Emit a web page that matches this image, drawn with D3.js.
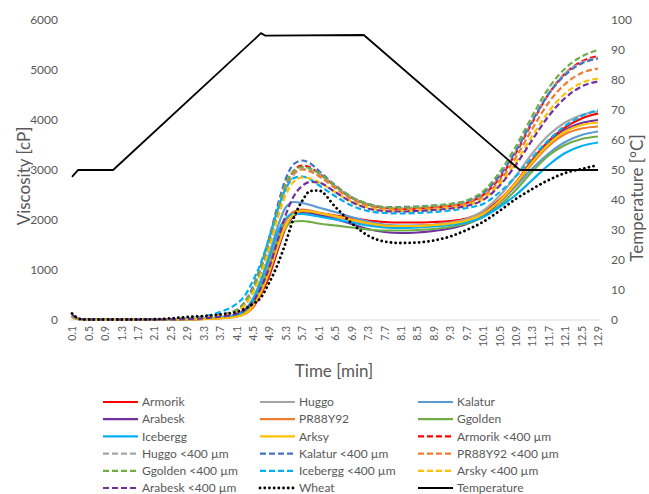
<!DOCTYPE html>
<html>
<head>
<meta charset="utf-8">
<script src="https://cdnjs.cloudflare.com/ajax/libs/d3/7.8.5/d3.min.js"></script>
<style>
body{margin:0;background:#fff;}
text{font-family:Lato,"Liberation Sans",sans-serif;fill:#595959;}
</style>
</head>
<body>
<script>
// time points (min) the viscosity curves were read at
var times = [0.1,0.3,0.5,1.3,2.1,2.9,3.3,3.7,4.1,4.3,4.5,4.7,4.9,5.1,5.3,5.5,5.7,5.9,6.1,6.5,6.9,7.3,7.7,8.1,8.5,8.9,9.3,9.7,10.1,10.5,10.9,11.3,11.7,12.1,12.5,12.9];

// viscosity [cP]
var armorik = [60,10,5,5,5,10,20,35,70,120,250,520,880,1380,1850,2100,2180,2170,2140,2090,2040,1990,1960,1950,1950,1960,1980,2030,2160,2400,2750,3200,3580,3850,4030,4130];
var huggo = [60,10,5,5,5,15,25,45,90,170,350,700,1150,1650,2000,2150,2190,2170,2130,2060,1990,1930,1890,1880,1890,1910,1950,2020,2180,2480,2880,3330,3700,3950,4100,4170];
var kalatur = [60,10,5,5,5,15,30,55,110,200,420,800,1300,1850,2250,2360,2340,2300,2250,2160,2060,1970,1910,1890,1890,1900,1930,1990,2120,2360,2680,3030,3330,3560,3700,3770];
var arabesk = [100,15,5,5,5,12,22,40,80,140,290,580,950,1420,1850,2080,2150,2140,2100,2020,1920,1820,1760,1740,1750,1780,1830,1920,2080,2360,2720,3150,3540,3800,3940,4000];
var pr88y92 = [60,10,5,5,5,12,22,40,80,150,320,650,1080,1580,1980,2170,2210,2190,2150,2080,2000,1930,1880,1870,1880,1900,1930,1990,2120,2370,2720,3130,3480,3720,3830,3870];
var ggolden = [60,10,5,5,5,12,22,40,80,150,320,640,1040,1500,1850,1970,1980,1960,1930,1890,1850,1810,1790,1790,1800,1820,1860,1930,2060,2290,2600,2970,3290,3500,3620,3670];
var icebergg = [60,10,5,5,5,15,28,50,100,190,400,780,1250,1740,2030,2120,2120,2100,2070,2010,1950,1890,1850,1840,1850,1870,1900,1950,2060,2260,2500,2800,3100,3340,3480,3550];
var arksy = [60,10,5,5,5,10,18,32,65,120,270,560,960,1450,1880,2110,2180,2170,2140,2080,2010,1940,1890,1880,1880,1900,1930,1990,2120,2380,2740,3160,3520,3770,3900,3950];
var armorik400 = [70,15,8,8,8,25,50,90,170,300,560,950,1480,2100,2650,2980,3090,3050,2940,2680,2450,2310,2240,2220,2230,2250,2280,2340,2500,2830,3340,3950,4520,4930,5170,5280];
var huggo400 = [70,15,8,8,8,25,50,90,170,300,560,950,1480,2080,2600,2910,3020,3000,2910,2670,2450,2310,2250,2240,2250,2270,2300,2360,2530,2880,3380,3980,4540,4930,5150,5250];
var kalatur400 = [70,15,8,8,8,30,60,110,200,360,660,1100,1650,2280,2820,3120,3190,3130,2990,2700,2460,2320,2260,2260,2270,2290,2320,2380,2540,2880,3380,3980,4520,4900,5130,5230];
var pr88y92400 = [70,15,8,8,8,28,55,100,190,340,620,1040,1580,2180,2700,2950,3010,2970,2880,2640,2420,2290,2230,2220,2230,2250,2280,2330,2470,2780,3250,3820,4350,4720,4940,5030];
var ggolden400 = [70,15,8,8,8,28,55,100,190,340,620,1040,1580,2180,2720,2990,3060,3030,2940,2690,2460,2320,2260,2250,2260,2290,2320,2390,2570,2950,3470,4080,4640,5030,5270,5400];
var icebergg400 = [70,15,8,8,8,35,70,160,320,480,780,1150,1650,2200,2620,2840,2870,2810,2700,2480,2290,2180,2140,2130,2140,2160,2190,2240,2320,2550,2870,3250,3600,3880,4080,4200];
var arsky400 = [70,15,8,8,8,25,48,85,160,290,540,920,1440,2020,2500,2770,2850,2830,2760,2560,2370,2250,2190,2180,2190,2210,2240,2290,2420,2710,3150,3680,4170,4530,4740,4830];
var arabesk400 = [100,20,8,8,8,20,35,65,120,200,360,650,1050,1580,2100,2480,2680,2760,2750,2560,2360,2230,2180,2170,2180,2200,2230,2280,2400,2680,3100,3600,4080,4440,4670,4770];
var wheat = [130,20,10,10,15,60,80,110,160,220,320,450,750,1100,1550,2050,2380,2580,2590,2270,1940,1690,1570,1540,1550,1590,1670,1800,1960,2180,2420,2620,2800,2940,3020,3100];

// temperature profile [°C]
var tempTimes = [0.1,0.25,1.1,4.7,4.8,7.2,11.0,12.9];
var tempValues = [47.7,50,50,95.6,94.8,95,50,50];

var xTickLabels = ["0.1","0.5","0.9","1.3","1.7","2.1","2.5","2.9","3.3","3.7","4.1","4.5","4.9","5.3","5.7","6.1","6.5","6.9","7.3","7.7","8.1","8.5","8.9","9.3","9.7","10.1","10.5","10.9","11.3","11.7","12.1","12.5","12.9"];
var viscTicks = [0,1000,2000,3000,4000,5000,6000];
var tempTicks = [0,10,20,30,40,50,60,70,80,90,100];

// series in drawing order, with their look
var series = [
	{name:"Armorik", values:armorik, color:"#FF0000", dash:null},
	{name:"Huggo", values:huggo, color:"#A5A5A5", dash:null},
	{name:"Kalatur", values:kalatur, color:"#5B9BD5", dash:null},
	{name:"Arabesk", values:arabesk, color:"#7030A0", dash:null},
	{name:"PR88Y92", values:pr88y92, color:"#ED7D31", dash:null},
	{name:"Ggolden", values:ggolden, color:"#70AD47", dash:null},
	{name:"Icebergg", values:icebergg, color:"#00B0F0", dash:null},
	{name:"Arksy", values:arksy, color:"#FFC000", dash:null},
	{name:"Armorik <400 µm", values:armorik400, color:"#FF0000", dash:"6,3"},
	{name:"Huggo <400 µm", values:huggo400, color:"#A5A5A5", dash:"6,3"},
	{name:"Kalatur <400 µm", values:kalatur400, color:"#4472C4", dash:"6,3"},
	{name:"PR88Y92 <400 µm", values:pr88y92400, color:"#ED7D31", dash:"6,3"},
	{name:"Ggolden <400 µm", values:ggolden400, color:"#70AD47", dash:"6,3"},
	{name:"Icebergg <400 µm", values:icebergg400, color:"#00B0F0", dash:"6,3"},
	{name:"Arsky <400 µm", values:arsky400, color:"#FFC000", dash:"6,3"},
	{name:"Arabesk <400 µm", values:arabesk400, color:"#7030A0", dash:"6,3"},
	{name:"Wheat", values:wheat, color:"#000000", dash:"0.1,4.6", dot:true}
];

var w = 649, h = 494;
var svg = d3.select("body").append("svg")
	.attr("width", w)
	.attr("height", h);

var x = d3.scaleLinear().domain([0.1, 12.9]).range([72, 598]);
var y = d3.scaleLinear().domain([0, 6000]).range([320, 20]);
var yT = d3.scaleLinear().domain([0, 100]).range([320, 20]);

// axes
var leftAxis = svg.append("g")
	.attr("transform", "translate(58,0)")
	.call(d3.axisLeft(y).tickValues(viscTicks).tickSize(0).tickPadding(0).tickFormat(d3.format("d")));
var rightAxis = svg.append("g")
	.attr("transform", "translate(611,0)")
	.call(d3.axisRight(yT).tickValues(tempTicks).tickSize(0).tickPadding(0));
[leftAxis, rightAxis].forEach(function(a){
	a.select(".domain").remove();
	a.selectAll("text").style("font-size", "12px").style("font-family", "Lato").attr("fill", "#595959");
});

var tickNums = xTickLabels.map(function(s){return +s});
var bottomAxis = svg.append("g")
	.attr("transform", "translate(0,320)")
	.call(d3.axisBottom(x).tickValues(tickNums).tickSize(0).tickFormat(function(d,i){return xTickLabels[i]}));
bottomAxis.select(".domain").remove();
bottomAxis.selectAll("text")
	.attr("transform", "rotate(-90)")
	.attr("x", -6)
	.attr("y", 0)
	.attr("dy", "0.35em")
	.attr("text-anchor", "end")
	.attr("fill", "#595959")
	.style("font-size", "10.5px")
	.style("font-family", "Lato");

// category axis line
svg.append("line")
	.attr("x1", x(0.05)).attr("x2", x(12.95))
	.attr("y1", y(0)).attr("y2", y(0))
	.attr("stroke", "#D9D9D9").attr("stroke-width", 1);

// titles
svg.append("text")
	.attr("transform", "translate(30,176) rotate(-90)")
	.attr("text-anchor", "middle")
	.style("font-size", "17px")
	.text("Viscosity [cP]");
svg.append("text")
	.attr("transform", "translate(643,198) rotate(-90)")
	.attr("text-anchor", "middle")
	.style("font-size", "17px")
	.text("Temperature [°C]");
svg.append("text")
	.attr("x", 334).attr("y", 377)
	.attr("text-anchor", "middle")
	.style("font-size", "17px")
	.text("Time [min]");

// viscosity lines
var line = d3.line()
	.x(function(d){return x(d[0])})
	.y(function(d){return y(d[1])})
	.curve(d3.curveMonotoneX);

series.forEach(function(s){
	var pts = times.map(function(t,i){return [t, s.values[i]]});
	var p = svg.append("path")
		.attr("d", line(pts))
		.attr("fill", "none")
		.attr("stroke", s.color)
		.attr("stroke-width", s.dot ? 2.8 : 2.2);
	if(s.dash) p.attr("stroke-dasharray", s.dash);
	if(s.dot) p.attr("stroke-linecap", "round");
});

// temperature on the right axis
var tempLine = d3.line()
	.x(function(d){return x(d[0])})
	.y(function(d){return yT(d[1])});
svg.append("path")
	.attr("d", tempLine(tempTimes.map(function(t,i){return [t, tempValues[i]]})))
	.attr("fill", "none")
	.attr("stroke", "#000")
	.attr("stroke-width", 1.8);

// legend, 3 columns filled row by row
var legendItems = [
	series[0], series[1], series[2],
	series[3], series[4], series[5],
	series[6], series[7], series[8],
	series[9], series[10], series[11],
	series[12], series[13], series[14],
	series[15], series[16], {name:"Temperature", color:"#000", dash:null, temp:true}
];
var colX = [103, 260, 418];
legendItems.forEach(function(d,i){
	var cx = colX[i % 3];
	var cy = 402 + Math.floor(i / 3) * 17.2;
	var l = svg.append("line")
		.attr("x1", cx).attr("x2", cx + 35)
		.attr("y1", cy).attr("y2", cy)
		.attr("stroke", d.color)
		.attr("stroke-width", d.dot ? 2.8 : (d.temp ? 1.8 : 2.2));
	if(d.dash) l.attr("stroke-dasharray", d.dash);
	if(d.dot) l.attr("stroke-linecap", "round");
	svg.append("text")
		.attr("x", cx + 39).attr("y", cy)
		.attr("dy", "0.35em")
		.style("font-size", "12px")
		.text(d.name);
});
</script>
</body>
</html>
